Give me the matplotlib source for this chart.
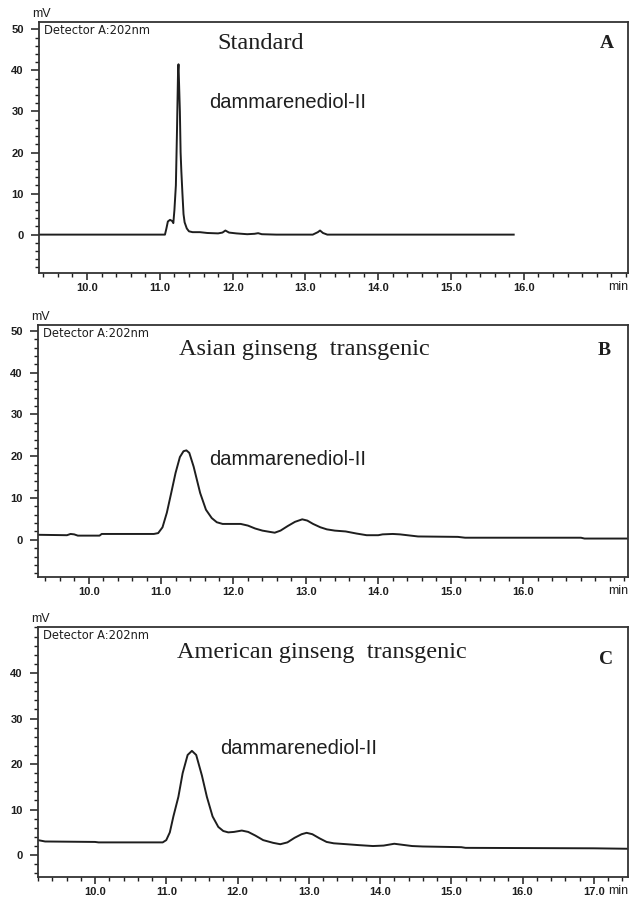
import numpy as np
import matplotlib.pyplot as plt
from matplotlib.ticker import MultipleLocator

# ---- data (time in min, signal in mV) ----
a_time = [9.34, 11.07, 11.09, 11.11, 11.14, 11.17, 11.185, 11.20, 11.22, 11.235,
          11.25, 11.256, 11.265, 11.275, 11.285, 11.295, 11.31, 11.325, 11.34,
          11.37, 11.40, 11.45, 11.55, 11.65, 11.80, 11.86, 11.90, 11.95, 12.05,
          12.20, 12.30, 12.35, 12.40, 12.60, 13.10, 13.17, 13.20, 13.24, 13.30, 15.86]
a_mv = [0, 0, 1.5, 3.2, 3.6, 3.3, 2.8, 6, 12, 25,
        40, 41.5, 36, 30, 20, 15.5, 10, 5, 3,
        1.5, 0.8, 0.6, 0.6, 0.4, 0.3, 0.5, 1.0, 0.5, 0.3,
        0.1, 0.2, 0.35, 0.1, 0, 0, 0.6, 1.0, 0.4, 0, 0]

b_time = [9.30, 9.70, 9.75, 9.80, 9.85, 10.15, 10.18, 10.90, 10.96, 11.02, 11.08,
          11.14, 11.20, 11.26, 11.31, 11.35, 11.39, 11.45, 11.54, 11.62, 11.70,
          11.77, 11.85, 11.95, 12.10, 12.20, 12.30, 12.40, 12.50, 12.57, 12.65,
          12.75, 12.85, 12.95, 13.02, 13.10, 13.20, 13.29, 13.40, 13.55, 13.70,
          13.84, 14.00, 14.06, 14.20, 14.30, 14.45, 14.55, 15.10, 15.20, 16.80,
          16.85, 17.45]
b_mv = [1.2, 1.1, 1.4, 1.3, 1.0, 1.0, 1.4, 1.4, 1.6, 3.0, 6.5,
        11.2, 16.0, 19.8, 21.2, 21.4, 20.8, 17.5, 11.2, 7.2, 5.2,
        4.2, 3.8, 3.8, 3.8, 3.4, 2.7, 2.2, 1.9, 1.7, 2.2,
        3.3, 4.3, 4.9, 4.6, 3.8, 3.0, 2.5, 2.2, 2.0, 1.5,
        1.1, 1.1, 1.3, 1.4, 1.3, 1.0, 0.8, 0.7, 0.5, 0.5,
        0.3, 0.3]

c_time = [9.20, 9.30, 10.00, 10.05, 10.95, 11.00, 11.05, 11.10, 11.17, 11.23,
          11.30, 11.36, 11.42, 11.50, 11.57, 11.65, 11.73, 11.80, 11.87, 11.95,
          12.06, 12.15, 12.25, 12.36, 12.50, 12.60, 12.70, 12.80, 12.90, 12.97,
          13.05, 13.15, 13.25, 13.35, 13.53, 13.70, 13.90, 14.05, 14.20, 14.30,
          14.45, 14.60, 15.14, 15.20, 17.00, 17.48]
c_mv = [3.3, 3.0, 2.9, 2.8, 2.8, 3.3, 5.0, 8.5, 12.8, 18.0,
        22.0, 22.9, 22.0, 17.5, 12.8, 8.5, 6.2, 5.3, 5.0, 5.1,
        5.4, 5.1, 4.3, 3.3, 2.7, 2.4, 2.8, 3.8, 4.6, 4.9,
        4.6, 3.7, 2.9, 2.6, 2.4, 2.2, 2.0, 2.1, 2.5, 2.3,
        2.0, 1.9, 1.75, 1.6, 1.5, 1.4]

titles = ['Standard', 'Asian ginseng  transgenic', 'American ginseng  transgenic']
letters = ['A', 'B', 'C']
peak_name = 'dammarenediol-II'
detector = 'Detector A:202nm'

INK = '#1e1e1e'

fig = plt.figure(figsize=(6.3, 9.01), dpi=100)


def panel(rect, t, mv, xlim, ylim, yticks, title, title_xy, letter, letter_xy,
          peak_xy, xticks):
    ax = fig.add_axes(rect)
    ax.plot(t, mv, color=INK, lw=1.4, solid_joinstyle='round')
    ax.set_xlim(*xlim)
    ax.set_ylim(*ylim)
    ax.set_xticks(xticks)
    ax.set_xticklabels([f'{v:.1f}' for v in xticks])
    ax.set_yticks(yticks)
    ax.xaxis.set_minor_locator(MultipleLocator(0.2))
    ax.yaxis.set_minor_locator(MultipleLocator(2))
    ax.tick_params(which='major', direction='out', width=1.1, color=INK,
                   labelsize=8, labelcolor=INK)
    ax.tick_params(axis='x', which='major', length=5, pad=2.5)
    ax.tick_params(axis='y', which='major', length=5.5, pad=5.5)
    ax.tick_params(which='minor', direction='out', length=3, width=1.0, color=INK)
    for lab in ax.get_xticklabels() + ax.get_yticklabels():
        lab.set_fontweight('bold')
        lab.set_family('Liberation Sans')
    for s in ax.spines.values():
        s.set_linewidth(1.3)
        s.set_color('#333333')

    ax.text(0.008, 0.993, detector, transform=ax.transAxes, ha='left', va='top',
            fontsize=8.3, color=INK)
    ax.text(-0.012, 1.006, 'mV', transform=ax.transAxes, ha='left', va='bottom',
            fontsize=9, family='Liberation Sans', color=INK)
    ax.text(1.0, -0.03, 'min', transform=ax.transAxes, ha='right', va='top',
            fontsize=9, family='Liberation Sans', color=INK)
    ax.text(*title_xy, title, ha='center', va='center', fontsize=17.5,
            family='Liberation Serif', color=INK)
    ax.text(*letter_xy, letter, transform=ax.transAxes, ha='center', va='center',
            fontsize=14, fontweight='bold', family='Liberation Serif', color=INK)
    ax.text(*peak_xy, peak_name, ha='left', va='center', fontsize=14.5,
            family='Liberation Sans', color=INK)
    return ax


panel([39 / 630, 1 - 273 / 901, 589 / 630, 251 / 901], a_time, a_mv,
      (9.34, 17.43), (-9.35, 51.8), [0, 10, 20, 30, 40, 50],
      titles[0], (12.38, 46.6), letters[0], (0.964, 0.916), (11.67, 32.2),
      [10, 11, 12, 13, 14, 15, 16])
panel([38 / 630, 1 - 577 / 901, 590 / 630, 252 / 901], b_time, b_mv,
      (9.30, 17.45), (-8.9, 51.4), [0, 10, 20, 30, 40, 50],
      titles[1], (12.98, 45.6), letters[1], (0.959, 0.897), (11.67, 19.1),
      [10, 11, 12, 13, 14, 15, 16])
panel([38 / 630, 1 - 877 / 901, 590 / 630, 250 / 901], c_time, c_mv,
      (9.20, 17.48), (-4.8, 50.1), [0, 10, 20, 30, 40],
      titles[2], (13.19, 44.5), letters[2], (0.963, 0.872), (11.75, 23.4),
      [10, 11, 12, 13, 14, 15, 16, 17])

fig.savefig('out.png', dpi=100)
